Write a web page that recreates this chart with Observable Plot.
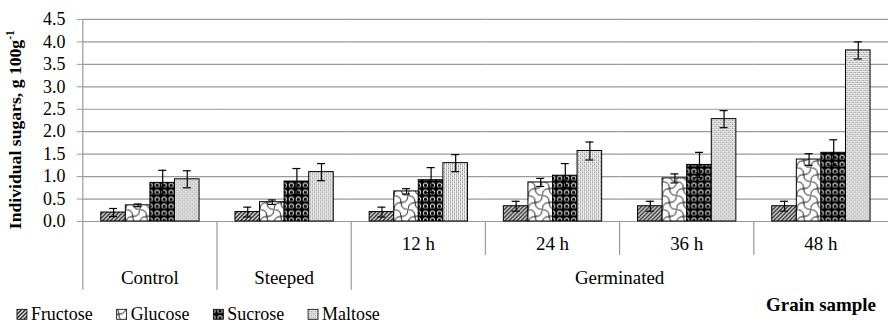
<!DOCTYPE html>
<html>
<head>
<meta charset="utf-8">
<script src="https://cdn.jsdelivr.net/npm/d3@7"></script>
<script src="https://cdn.jsdelivr.net/npm/@observablehq/plot@0.6"></script>
<style>
  html, body { margin: 0; padding: 0; background: white; overflow: hidden; }
  svg text, svg tspan { font-family: "Times New Roman", "Liberation Serif", "DejaVu Serif", serif !important; }
</style>
</head>
<body>
<div id="chart"></div>
<script>
// ---- data ----
const categories = ["Control", "Steeped", "12 h", "24 h", "36 h", "48 h"];
const groups = ["Control", "Steeped", "Germinated", "Germinated", "Germinated", "Germinated"];
const sugars = ["Fructose", "Glucose", "Sucrose", "Maltose"];
const fructose = [0.20, 0.21, 0.21, 0.34, 0.34, 0.34];
const fructoseErr = [0.09, 0.11, 0.11, 0.11, 0.11, 0.11];
const glucose = [0.36, 0.43, 0.67, 0.87, 0.96, 1.38];
const glucoseErr = [0.03, 0.05, 0.06, 0.09, 0.10, 0.13];
const sucrose = [0.86, 0.89, 0.92, 1.02, 1.26, 1.53];
const sucroseErr = [0.28, 0.29, 0.28, 0.27, 0.28, 0.29];
const maltose = [0.94, 1.10, 1.30, 1.57, 2.28, 3.81];
const maltoseErr = [0.19, 0.19, 0.19, 0.20, 0.19, 0.19];
const yTicks = [0, 0.5, 1, 1.5, 2, 2.5, 3, 3.5, 4, 4.5];
const yTitle = "Individual sugars, g 100g";
const yTitleSup = "-1";
const xTitle = "Grain sample";

const values = [fructose, glucose, sucrose, maltose];
const errors = [fructoseErr, glucoseErr, sucroseErr, maltoseErr];
const patternIds = ["pat-fru", "pat-glu", "pat-suc", "pat-mal"];

const data = categories.flatMap((c, i) =>
  sugars.map((s, j) => ({cat: c, sugar: s, value: values[j][i], err: errors[j][i]}))
);

const GRID = "#9a9a9a";
const FONT = '"Times New Roman", "Liberation Serif", "DejaVu Serif", serif';

const svg = Plot.plot({
  width: 890,
  height: 326,
  marginTop: 19,
  marginBottom: 104.5,
  marginLeft: 83,
  marginRight: 0,
  style: {fontFamily: FONT, fontSize: "18px", background: "white", color: "black"},
  fx: {domain: categories, paddingInner: 0, paddingOuter: 0, axis: null, round: false},
  x: {domain: sugars, paddingInner: 0, paddingOuter: 0.73, axis: null, round: false},
  y: {domain: [0, 4.5], axis: null},
  color: {domain: sugars, range: patternIds.map(id => `url(#${id})`)},
  marks: [
    Plot.gridY(yTicks, {stroke: GRID, strokeOpacity: 1, strokeWidth: 1.2}),
    Plot.axisY(yTicks, {tickFormat: d => d.toFixed(1), tickSize: 6, tickPadding: 12, label: null, stroke: GRID, fill: "black", fontSize: 18}),
    Plot.barY(data, {fx: "cat", x: "sugar", y: "value", fill: "sugar", stroke: "black", strokeWidth: 1}),
    Plot.ruleX(data, {fx: "cat", x: "sugar", y1: d => d.value - d.err, y2: d => d.value + d.err, stroke: "black", strokeWidth: 1.2}),
    Plot.tickY(data, {fx: "cat", x: "sugar", y: d => d.value + d.err, stroke: "black", strokeWidth: 1.2, insetLeft: 8.3, insetRight: 8.3}),
    Plot.tickY(data, {fx: "cat", x: "sugar", y: d => d.value - d.err, stroke: "black", strokeWidth: 1.2, insetLeft: 8.3, insetRight: 8.3})
  ]
});

const root = d3.select(svg);
// patterns
const defs = root.insert("defs", ":first-child");
{
  const p = defs.append("pattern").attr("id", "pat-fru").attr("patternUnits", "userSpaceOnUse").attr("width", 4).attr("height", 4);
  p.append("rect").attr("width", 4).attr("height", 4).attr("fill", "white");
  p.append("path").attr("d", "M-1,1 l2,-2 M0,4 l4,-4 M3,5 l2,-2").attr("stroke", "black").attr("stroke-width", 1.3);
}
{
  const p = defs.append("pattern").attr("id", "pat-glu").attr("patternUnits", "userSpaceOnUse").attr("width", 14).attr("height", 14);
  p.append("rect").attr("width", 14).attr("height", 14).attr("fill", "white");
  p.append("path").attr("d", "M0,14 Q0,7 7,7 T14,0 M0,0 Q7,0 7,7 T14,14").attr("fill", "none").attr("stroke", "black").attr("stroke-width", 0.9);
}
{
  const p = defs.append("pattern").attr("id", "pat-suc").attr("patternUnits", "userSpaceOnUse").attr("width", 7).attr("height", 7);
  p.append("rect").attr("width", 7).attr("height", 7).attr("fill", "black");
  p.append("circle").attr("cx", 3.5).attr("cy", 3.5).attr("r", 2.6).attr("fill", "white");
  p.append("circle").attr("cx", 3.5).attr("cy", 3.9).attr("r", 1.8).attr("fill", "black");
}
{
  const p = defs.append("pattern").attr("id", "pat-mal").attr("patternUnits", "userSpaceOnUse").attr("width", 4).attr("height", 4);
  p.append("rect").attr("width", 4).attr("height", 4).attr("fill", "#f2f2f2");
  p.append("rect").attr("width", 1).attr("height", 1).attr("fill", "#555");
  p.append("rect").attr("x", 2).attr("y", 2).attr("width", 1).attr("height", 1).attr("fill", "#555");
  p.append("rect").attr("x", 2).attr("y", 0).attr("width", 1).attr("height", 1).attr("fill", "#999");
  p.append("rect").attr("x", 0).attr("y", 2).attr("width", 1).attr("height", 1).attr("fill", "#999");
}

const fx = svg.scale("fx");
const y = svg.scale("y");
const step = fx.bandwidth;
const y0 = y.apply(0);
const yTop = y.apply(4.5);
const row1Bottom = y0 + 34;
const row2Bottom = y0 + 69;
const g = root.append("g").attr("font-family", FONT).attr("text-anchor", "start");

// y axis line + left edge of category axis
const xLeft = fx.apply(categories[0]);
g.append("line").attr("x1", xLeft).attr("x2", xLeft).attr("y1", yTop).attr("y2", row2Bottom)
  .attr("stroke", GRID).attr("stroke-width", 1.2);

// separators
categories.forEach((c, i) => {
  if (i === 0) return;
  const x = fx.apply(c);
  const full = groups[i] !== groups[i - 1];
  g.append("line").attr("x1", x).attr("x2", x).attr("y1", y0).attr("y2", full ? row2Bottom : row1Bottom)
    .attr("stroke", GRID).attr("stroke-width", 1.2);
});

// row 1 labels (sub-categories)
categories.forEach((c, i) => {
  if (c === groups[i]) return;
  g.append("text").attr("x", fx.apply(c) + step / 2).attr("y", y0 + 29)
    .attr("text-anchor", "middle").attr("font-size", 19).text(c);
});

// row 2 labels (groups)
const uniqueGroups = [...new Set(groups)];
uniqueGroups.forEach(gr => {
  const idx = groups.map((v, i) => v === gr ? i : -1).filter(i => i >= 0);
  const x1 = fx.apply(categories[idx[0]]);
  const x2 = fx.apply(categories[idx[idx.length - 1]]) + step;
  g.append("text").attr("x", (x1 + x2) / 2).attr("y", y0 + 63)
    .attr("text-anchor", "middle").attr("font-size", 19).text(gr);
});

// x title
g.append("text").attr("x", 878).attr("y", 312).attr("text-anchor", "end")
  .attr("font-size", 19).attr("font-weight", "bold").text(xTitle);

// y title
const yt = g.append("text").attr("transform", `translate(21,130) rotate(-90)`)
  .attr("text-anchor", "middle").attr("font-size", 17.7).attr("font-weight", "bold");
yt.append("tspan").text(yTitle);
yt.append("tspan").attr("dy", -7).attr("font-size", 11.5).text(yTitleSup);

// legend
document.getElementById("chart").appendChild(svg);
let lx = 17;
sugars.forEach((s, i) => {
  g.append("rect").attr("x", lx).attr("y", 310).attr("width", 10).attr("height", 10)
    .attr("fill", `url(#${patternIds[i]})`).attr("stroke", "black").attr("stroke-width", 0.8);
  const t = g.append("text").attr("x", lx + 14).attr("y", 321).attr("text-anchor", "start").attr("font-size", 18).text(s);
  const w = t.node().getComputedTextLength();
  lx = lx + 14 + w + 24;
});
</script>
</body>
</html>
